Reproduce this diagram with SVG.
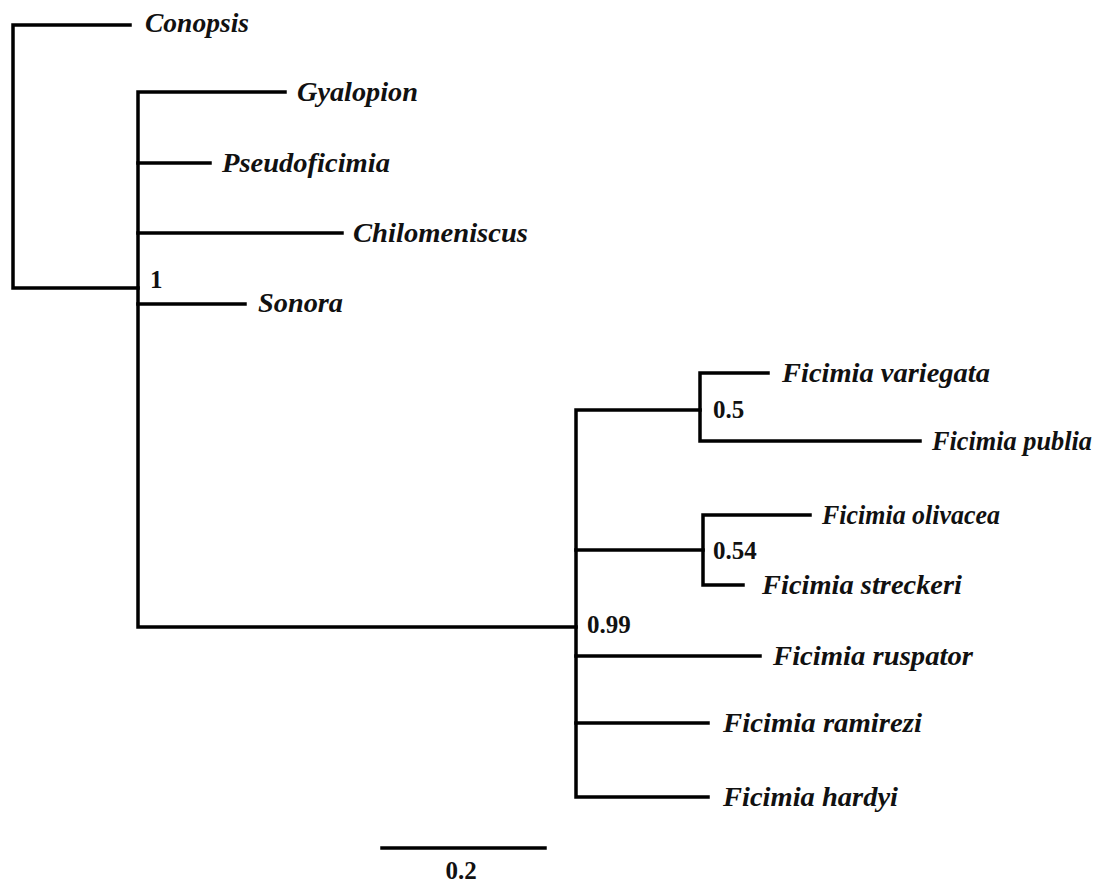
<svg xmlns="http://www.w3.org/2000/svg" width="1110" height="884" viewBox="0 0 1110 884">
<style>
.br{fill:none;stroke:#000;stroke-width:3.5;stroke-linecap:square;stroke-linejoin:miter}
.tx{font-family:"Liberation Serif","Times New Roman",serif;font-style:italic;font-weight:bold;font-size:27px;fill:#111}
.sp{font-family:"Liberation Serif","Times New Roman",serif;font-weight:bold;font-size:25px;fill:#111}
</style>
<rect width="1110" height="884" fill="#fff"/>
<g id="connectors">
<path class="br" d="M130,25 H13 V288 H138"/>
<path class="br" d="M285,92 H138 V627 H576"/>
<path class="br" d="M138,163 H210"/>
<path class="br" d="M138,233 H342"/>
<path class="br" d="M138,304 H245"/>
<path class="br" d="M700,410 H576 V797 H708"/>
<path class="br" d="M576,550 H703"/>
<path class="br" d="M576,656 H760"/>
<path class="br" d="M576,723 H708"/>
<path class="br" d="M768,373 H700 V441 H920"/>
<path class="br" d="M810,515 H703 V585 H743"/>
<path class="br" d="M382,848 H545"/>
</g>
<g id="conopsis"><text class="tx" x="145" y="32" textLength="104" lengthAdjust="spacingAndGlyphs">Conopsis</text></g>
<g id="gyalopion"><text class="tx" x="297" y="101" textLength="121" lengthAdjust="spacingAndGlyphs">Gyalopion</text></g>
<g id="pseudoficimia"><text class="tx" x="222" y="172" textLength="168" lengthAdjust="spacingAndGlyphs">Pseudoficimia</text></g>
<g id="chilomeniscus"><text class="tx" x="353" y="242" textLength="175" lengthAdjust="spacingAndGlyphs">Chilomeniscus</text></g>
<g id="sonora"><text class="tx" x="258" y="312" textLength="85" lengthAdjust="spacingAndGlyphs">Sonora</text></g>
<g id="f-variegata"><text class="tx" x="782" y="382" textLength="208" lengthAdjust="spacingAndGlyphs">Ficimia variegata</text></g>
<g id="f-publia"><text class="tx" x="932" y="450" textLength="160" lengthAdjust="spacingAndGlyphs">Ficimia publia</text></g>
<g id="f-olivacea"><text class="tx" x="822" y="524" textLength="178" lengthAdjust="spacingAndGlyphs">Ficimia olivacea</text></g>
<g id="f-streckeri"><text class="tx" x="762" y="594" textLength="200" lengthAdjust="spacingAndGlyphs">Ficimia streckeri</text></g>
<g id="f-ruspator"><text class="tx" x="773" y="665" textLength="200" lengthAdjust="spacingAndGlyphs">Ficimia ruspator</text></g>
<g id="f-ramirezi"><text class="tx" x="723" y="732" textLength="199" lengthAdjust="spacingAndGlyphs">Ficimia ramirezi</text></g>
<g id="f-hardyi"><text class="tx" x="723" y="806" textLength="175" lengthAdjust="spacingAndGlyphs">Ficimia hardyi</text></g>
<g id="support-1"><text class="sp" x="150" y="288">1</text></g>
<g id="support-05"><text class="sp" x="713" y="418">0.5</text></g>
<g id="support-054"><text class="sp" x="713" y="559">0.54</text></g>
<g id="support-099"><text class="sp" x="587" y="633">0.99</text></g>
<g id="scale"><text class="sp" x="461" y="879" text-anchor="middle">0.2</text></g>
</svg>
